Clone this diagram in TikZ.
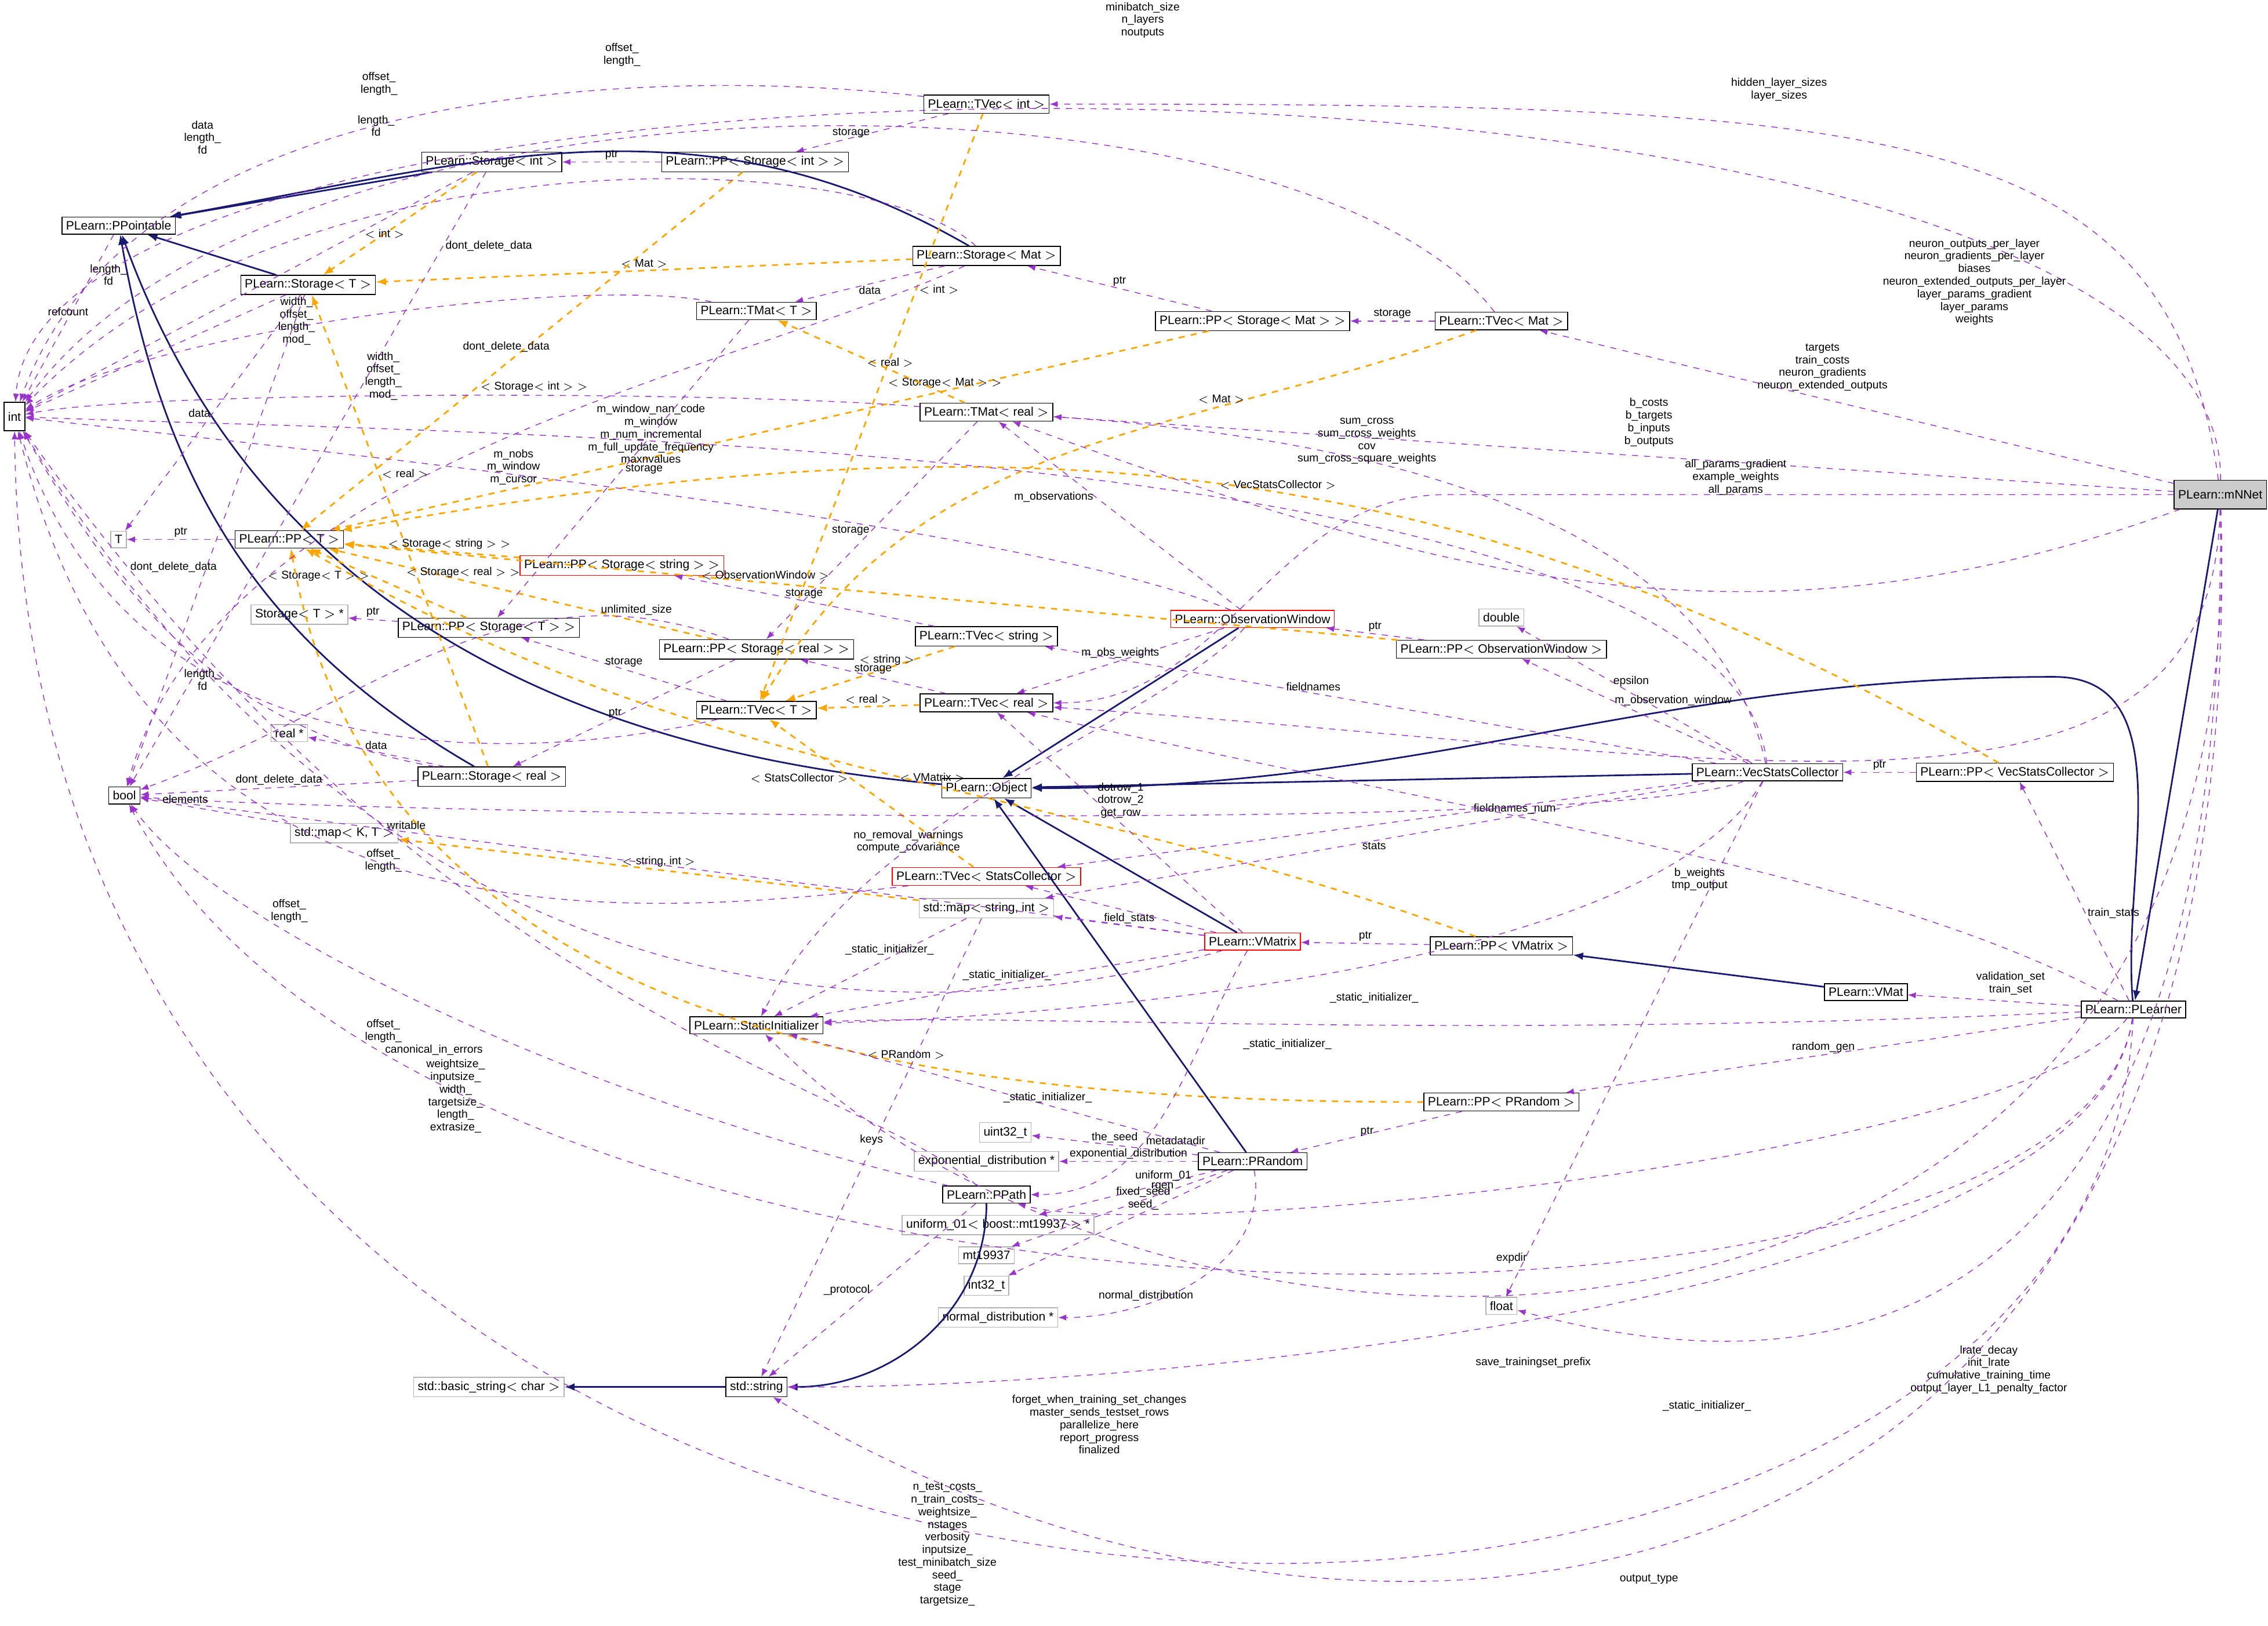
\documentclass[tikz,border=0pt]{standalone}
\usepackage{fontspec}
\setmainfont{Liberation Sans}
\usetikzlibrary{arrows.meta}
\definecolor{navy}{RGB}{25,25,112}
\definecolor{orchid}{RGB}{154,50,205}
\definecolor{tmpl}{RGB}{255,165,0}
\tikzset{
  cls/.style={draw, fill=white, inner sep=2pt, font=\fontsize{6}{7}\selectfont},
  ext/.style={cls, draw=gray!60},
  bad/.style={cls, draw=red},
  lbl/.style={font=\fontsize{5.5}{6.2}\selectfont, align=center, inner sep=1pt, text=black},
  inh/.style={navy, thick, -{Latex[length=5pt]}},
  use/.style={orchid, dashed, -{Latex[length=4pt]}},
  tpl/.style={tmpl, dashed, thick, -{Latex[length=5pt]}}
}
\begin{document}
\begin{tikzpicture}[x=0.025cm, y=-0.025cm]
    \useasboundingbox (0,0) rectangle (1568,1124);
    % classes
    \node[cls, minimum height=14] (int) at (10,288) {int};
    \node[cls] (bool) at (86,550) {bool};
    \node[ext] (T) at (82,373) {T};
    \node[cls] (ppointable) at (82,156) {PLearn::PPointable};
    \node[cls] (storT) at (213,197) {PLearn::Storage$<$ T $>$};
    \node[cls] (storInt) at (340,112) {PLearn::Storage$<$ int $>$};
    \node[cls] (ppStorInt) at (522,112) {PLearn::PP$<$ Storage$<$ int $>$ $>$};
    \node[cls] (tvecInt) at (682,72) {PLearn::TVec$<$ int $>$};
    \node[cls] (storMat) at (682,177) {PLearn::Storage$<$ Mat $>$};
    \node[cls] (tmatT) at (523,215) {PLearn::TMat$<$ T $>$};
    \node[cls] (ppStorMat) at (866,222) {PLearn::PP$<$ Storage$<$ Mat $>$ $>$};
    \node[cls] (tvecMat) at (1038,222) {PLearn::TVec$<$ Mat $>$};
    \node[cls] (tmatReal) at (682,285) {PLearn::TMat$<$ real $>$};
    \node[cls] (ppT) at (200,373) {PLearn::PP$<$ T $>$};
    \node[bad] (ppStorStr) at (430,391) {PLearn::PP$<$ Storage$<$ string $>$ $>$};
    \node[ext] (storTptr) at (207,425) {Storage$<$ T $>$ *};
    \node[cls] (ppStorT) at (338,434) {PLearn::PP$<$ Storage$<$ T $>$ $>$};
    \node[cls] (tvecStr) at (682,440) {PLearn::TVec$<$ string $>$};
    \node[cls] (ppStorReal) at (523,449) {PLearn::PP$<$ Storage$<$ real $>$ $>$};
    \node[bad] (obsWin) at (866,428) {PLearn::ObservationWindow};
    \node[ext] (dbl) at (1038,427) {double};
    \node[cls] (ppObsWin) at (1038,449) {PLearn::PP$<$ ObservationWindow $>$};
    \node[cls] (tvecT) at (523,491) {PLearn::TVec$<$ T $>$};
    \node[cls] (tvecReal) at (682,486) {PLearn::TVec$<$ real $>$};
    \node[ext] (realPtr) at (200,507) {real *};
    \node[cls] (storReal) at (340,537) {PLearn::Storage$<$ real $>$};
    \node[cls] (object) at (682,545) {PLearn::Object};
    \node[cls] (vsc) at (1222,534) {PLearn::VecStatsCollector};
    \node[cls] (ppVsc) at (1393,534) {PLearn::PP$<$ VecStatsCollector $>$};
    \node[ext] (mapKT) at (238,576) {std::map$<$ K, T $>$};
    \node[bad] (tvecSC) at (682,606) {PLearn::TVec$<$ StatsCollector $>$};
    \node[ext] (mapSI) at (682,628) {std::map$<$ string, int $>$};
    \node[bad] (vmatrix) at (866,651) {PLearn::VMatrix};
    \node[cls] (ppVMatrix) at (1038,654) {PLearn::PP$<$ VMatrix $>$};
    \node[cls] (vmat) at (1290,686) {PLearn::VMat};
    \node[cls] (plearner) at (1475,698) {PLearn::PLearner};
    \node[cls] (statInit) at (523,709) {PLearn::StaticInitializer};
    \node[cls] (ppPRandom) at (1038,762) {PLearn::PP$<$ PRandom $>$};
    \node[ext] (uint32) at (695,783) {uint32\_t};
    \node[ext] (expDist) at (682,803) {exponential\_distribution *};
    \node[cls] (prandom) at (866,803) {PLearn::PRandom};
    \node[cls] (ppath) at (682,826) {PLearn::PPath};
    \node[ext] (unif) at (690,847) {uniform\_01$<$ boost::mt19937 $>$ *};
    \node[ext] (mt) at (682,868) {mt19937};
    \node[ext] (int32) at (682,889) {int32\_t};
    \node[ext] (normDist) at (690,911) {normal\_distribution *};
    \node[ext] (float) at (1038,903) {float};
    \node[ext] (basicStr) at (338,959) {std::basic\_string$<$ char $>$};
    \node[cls] (stdStr) at (523,959) {std::string};
    \node[cls, fill=gray!40, minimum height=14] (mnnet) at (1535,342) {PLearn::mNNet};
    % inheritance
    \draw[inh] (storInt) -- (ppointable);
    \draw[inh] (storT) -- (ppointable);
    \draw[inh] (storMat) to[out=150,in=10] (ppointable);
    \draw[inh] (storReal) to[out=150,in=-80] (ppointable);
    \draw[inh] (object) to[out=175,in=-70] (ppointable);
    \draw[inh] (obsWin) -- (object);
    \draw[inh] (vsc) -- (object);
    \draw[inh] (vmatrix) -- (object);
    \draw[inh] (prandom) -- (object);
    \draw[inh] (plearner) to[out=95,in=0] (1420,468) to[out=180,in=0] (object);
    \draw[inh] (mnnet) -- (plearner);
    \draw[inh] (vmat) -- (ppVMatrix);
    \draw[inh] (stdStr) -- (basicStr);
    \draw[inh] (ppath) to[out=-90,in=0] (stdStr);
    % templates
    \draw[tpl] (storInt) -- node[lbl, pos=0.6]{$<$ int $>$} (storT);
    \draw[tpl] (storMat) -- node[lbl, above]{$<$ Mat $>$} (storT);
    \draw[tpl] (storReal) -- node[lbl, pos=0.62, right]{$<$ real $>$} (storT);
    \draw[tpl] (ppStorInt) -- node[lbl, pos=0.6, right]{$<$ Storage$<$ int $>$ $>$} (ppT);
    \draw[tpl] (ppStorMat) -- node[lbl, pos=0.3, above]{$<$ Storage$<$ Mat $>$ $>$} (ppT);
    \draw[tpl] (ppStorStr) -- node[lbl, above, pos=0.4]{$<$ Storage$<$ string $>$ $>$} (ppT);
    \draw[tpl] (ppStorReal) -- node[lbl, pos=0.65, above]{$<$ Storage$<$ real $>$ $>$} (ppT);
    \draw[tpl] (ppStorT) -- node[lbl, pos=0.6, left]{$<$ Storage$<$ T $>$ $>$} (ppT);
    \draw[tpl] (ppObsWin) -- node[lbl, pos=0.6, above]{$<$ ObservationWindow $>$} (ppT);
    \draw[tpl] (ppVsc) to[out=150,in=10] node[lbl, pos=0.45, above]{$<$ VecStatsCollector $>$} (ppT);
    \draw[tpl] (ppVMatrix) to[out=160,in=-30] node[lbl, pos=0.45, above]{$<$ VMatrix $>$} (ppT);
    \draw[tpl] (ppPRandom) to[out=180,in=-80] node[lbl, pos=0.35, above]{$<$ PRandom $>$} (ppT);
    \draw[tpl] (tvecInt) -- node[lbl, pos=0.3, right]{$<$ int $>$} (tvecT);
    \draw[tpl] (tvecMat) to[out=200,in=60] node[lbl, pos=0.3, above]{$<$ Mat $>$} (tvecT);
    \draw[tpl] (tvecStr) -- node[lbl, pos=0.4, above]{$<$ string $>$} (tvecT);
    \draw[tpl] (tvecReal) -- node[lbl, above]{$<$ real $>$} (tvecT);
    \draw[tpl] (tvecSC) -- node[lbl, pos=0.6, left]{$<$ StatsCollector $>$} (tvecT);
    \draw[tpl] (tmatReal) -- node[lbl, pos=0.4, above]{$<$ real $>$} (tmatT);
    \draw[tpl] (mapSI) -- node[lbl, above]{$<$ string, int $>$} (mapKT);
    % members of mNNet
    \draw[use] (mnnet) .. controls (1540,0) and (30,0) .. (int);
    \path node[lbl] at (790,14) {minibatch\_size\\n\_layers\\noutputs};
    \draw[use] (mnnet) .. controls (1500,80) and (1300,72) .. (tvecInt);
    \path node[lbl] at (1230,62) {hidden\_layer\_sizes\\layer\_sizes};
    \draw[use] (mnnet) -- (tvecMat);
    \path node[lbl] at (1365,195) {neuron\_outputs\_per\_layer\\neuron\_gradients\_per\_layer\\biases\\neuron\_extended\_outputs\_per\_layer\\layer\_params\_gradient\\layer\_params\\weights};
    \draw[use] (mnnet) -- (tmatReal);
    \path node[lbl] at (1260,254) {targets\\train\_costs\\neuron\_gradients\\neuron\_extended\_outputs};
    \draw[use] (mnnet) to[out=200,in=-20] (tmatReal);
    \path node[lbl] at (1140,292) {b\_costs\\b\_targets\\b\_inputs\\b\_outputs};
    \draw[use] (mnnet) -- (1000,342) to[out=180,in=0] (tvecReal);
    \path node[lbl] at (1200,330) {all\_params\_gradient\\example\_weights\\all\_params};
    \draw[use] (mnnet) .. controls (1530,600) and (1200,520) .. (tvecReal);
    \path node[lbl] at (1175,608) {b\_weights\\tmp\_output};
    \draw[use] (mnnet) .. controls (1540,950) and (1250,960) .. (float);
    \path node[lbl] at (1375,947) {lrate\_decay\\init\_lrate\\cumulative\_training\_time\\output\_layer\_L1\_penalty\_factor};
    \draw[use] (mnnet) .. controls (1560,1010) and (800,990) .. (statInit);
    \path node[lbl] at (1180,972) {\_static\_initializer\_};
    \draw[use] (mnnet) .. controls (1560,1190) and (900,1190) .. (stdStr);
    \path node[lbl] at (1140,1092) {output\_type};
    % members of PLearner
    \draw[use] (plearner) -- (vmat);
    \path node[lbl] at (1390,680) {validation\_set\\train\_set};
    \draw[use] (plearner) -- node[lbl, right, pos=0.4]{train\_stats} (ppVsc);
    \draw[use] (plearner) -- node[lbl, pos=0.5, above]{random\_gen} (ppPRandom);
    \draw[use] (plearner) .. controls (1400,800) and (800,860) .. (ppath);
    \path node[lbl] at (1045,870) {expdir};
    \draw[use] (plearner) .. controls (1450,900) and (800,960) .. (stdStr);
    \path node[lbl] at (1060,942) {save\_trainingset\_prefix};
    \draw[use] (plearner) .. controls (1440,960) and (300,960) .. (bool);
    \path node[lbl] at (760,985) {forget\_when\_training\_set\_changes\\master\_sends\_testset\_rows\\parallelize\_here\\report\_progress\\finalized};
    \draw[use] (plearner) .. controls (1450,1260) and (20,1260) .. (int);
    \path node[lbl] at (655,1068) {n\_test\_costs\_\\n\_train\_costs\_\\weightsize\_\\nstages\\verbosity\\inputsize\_\\test\_minibatch\_size\\seed\_\\stage\\targetsize\_};
    \draw[use] (plearner) .. controls (1000,720) and (700,700) .. (statInit);
    \path node[lbl] at (950,690) {\_static\_initializer\_};
    \draw[use] (plearner) .. controls (1300,600) and (1000,560) .. (tvecReal);
    \path node[lbl] at (950,585) {stats};
    % members of VecStatsCollector
    \draw[use] (vsc) .. controls (1180,340) and (900,300) .. (tmatReal);
    \path node[lbl] at (945,305) {sum\_cross\\sum\_cross\_weights\\cov\\sum\_cross\_square\_weights};
    \draw[use] (vsc) -- node[lbl, right, pos=0.6]{epsilon} (dbl);
    \draw[use] (vsc) -- node[lbl, pos=0.6, right]{m\_observation\_window} (ppObsWin);
    \draw[use] (vsc) -- node[lbl, pos=0.6, above]{fieldnames} (tvecStr);
    \draw[use] (vsc) -- (tvecSC);
    \draw[use] (vsc) -- node[lbl, pos=0.3, above]{fieldnames\_num} (mapSI);
    \draw[use] (vsc) .. controls (1100,580) and (200,560) .. (bool);
    \path node[lbl] at (628,582) {no\_removal\_warnings\\compute\_covariance};
    \draw[use] (vsc) .. controls (1200,300) and (300,300) .. (int);
    \path node[lbl] at (450,300) {m\_window\_nan\_code\\m\_window\\m\_num\_incremental\\m\_full\_update\_frequency\\maxnvalues};
    \draw[use] (vsc) -- (float);
    \draw[use] (vsc) .. controls (1150,660) and (800,700) .. (statInit);
    \path node[lbl] at (890,722) {\_static\_initializer\_};
    \draw[use] (ppVsc) -- node[lbl, above]{ptr} (vsc);
    % members of ObservationWindow
    \draw[use] (obsWin) -- node[lbl, pos=0.6, left]{m\_observations} (tmatReal);
    \draw[use] (obsWin) -- node[lbl, pos=0.5, above]{m\_obs\_weights} (tvecReal);
    \draw[use] (obsWin) .. controls (700,360) and (200,310) .. (int);
    \path node[lbl] at (355,323) {m\_nobs\\m\_window\\m\_cursor};
    \draw[use] (obsWin) .. controls (800,500) and (600,560) .. (statInit);
    \draw[use] (ppObsWin) -- node[lbl, above]{ptr} (obsWin);
    % members of VMatrix
    \draw[use] (vmatrix) -- node[lbl, above]{field\_stats} (mapSI);
    \draw[use] (vmatrix) -- (tvecSC);
    \draw[use] (vmatrix) -- node[lbl, pos=0.6, right]{dotrow\_1\\dotrow\_2\\get\_row} (tvecReal);
    \draw[use] (vmatrix) to[out=-120,in=0] node[lbl, right, pos=0.6]{metadatadir} (ppath);
    \draw[use] (vmatrix) -- node[lbl, pos=0.75, above]{writable} (bool);
    \draw[use] (vmatrix) .. controls (700,700) and (300,760) .. (int);
    \path node[lbl] at (315,758) {weightsize\_\\inputsize\_\\width\_\\targetsize\_\\length\_\\extrasize\_};
    \draw[use] (vmatrix) -- node[lbl, pos=0.5, above]{\_static\_initializer\_} (statInit);
    \draw[use] (ppVMatrix) -- node[lbl, above]{ptr} (vmatrix);
    % members of PRandom
    \draw[use] (prandom) -- node[lbl, above]{the\_seed} (uint32);
    \draw[use] (prandom) -- node[lbl, above]{exponential\_distribution} (expDist);
    \draw[use] (prandom) -- node[lbl, above, pos=0.3]{uniform\_01} (unif);
    \draw[use] (prandom) -- node[lbl, above, pos=0.3]{rgen} (mt);
    \draw[use] (prandom) -- node[lbl, above, pos=0.4]{fixed\_seed\\seed\_} (int32);
    \draw[use] (prandom) to[out=-80,in=0] node[lbl, above, pos=0.7]{normal\_distribution} (normDist);
    \draw[use] (prandom) -- node[lbl, above, pos=0.4]{\_static\_initializer\_} (statInit);
    \draw[use] (ppPRandom) -- node[lbl, left]{ptr} (prandom);
    % members of PPath
    \draw[use] (ppath) -- node[lbl, left]{\_protocol} (stdStr);
    \draw[use] (ppath) .. controls (400,760) and (150,640) .. (bool);
    \path node[lbl] at (300,726) {canonical\_in\_errors};
    \draw[use] (ppath) .. controls (600,750) and (300,700) .. (int);
    \path node[lbl] at (265,713) {offset\_\\length\_};
    \draw[use] (mapSI) -- node[lbl, above]{keys} (stdStr);
    \draw[use] (mapSI) -- node[lbl, above, pos=0.4]{\_static\_initializer\_} (statInit);
    \draw[use] (mapKT) -- node[lbl, above, pos=0.7]{elements} (bool);
    % members of TVec / TMat
    \draw[use] (tvecInt) -- node[lbl, left, pos=0.5]{storage} (ppStorInt);
    \draw[use] (tvecInt) .. controls (500,50) and (100,40) .. (int);
    \path node[lbl] at (262,58) {offset\_\\length\_};
    \draw[use] (tvecMat) -- node[lbl, above]{storage} (ppStorMat);
    \draw[use] (tvecMat) .. controls (900,40) and (200,30) .. (int);
    \path node[lbl] at (430,38) {offset\_\\length\_};
    \draw[use] (tmatReal) -- node[lbl, pos=0.5, left]{storage} (ppStorReal);
    \draw[use] (tmatReal) .. controls (500,270) and (100,270) .. (int);
    \path node[lbl] at (265,260) {width\_\\offset\_\\length\_\\mod\_};
    \draw[use] (tmatT) -- node[lbl, right]{storage} (ppStorT);
    \draw[use] (tmatT) .. controls (400,190) and (100,230) .. (int);
    \path node[lbl] at (205,222) {width\_\\offset\_\\length\_\\mod\_};
    \draw[use] (tvecStr) -- node[lbl, above]{storage} (ppStorStr);
    \draw[use] (tvecReal) -- node[lbl, above]{storage} (ppStorReal);
    \draw[use] (tvecT) -- node[lbl, above]{storage} (ppStorT);
    \draw[use] (tvecT) .. controls (400,520) and (100,560) .. (int);
    \path node[lbl] at (265,595) {offset\_\\length\_};
    \draw[use] (tvecSC) .. controls (400,640) and (100,650) .. (int);
    \path node[lbl] at (200,630) {offset\_\\length\_};
    \draw[use] (ppStorReal) to[out=160,in=20] (bool);
    \path node[lbl] at (440,422) {unlimited\_size};
    % members of Storage / PP
    \draw[use] (ppStorInt) -- node[lbl, above]{ptr} (storInt);
    \draw[use] (ppStorMat) -- node[lbl, above]{ptr} (storMat);
    \draw[use] (ppStorT) -- node[lbl, above]{ptr} (storTptr);
    \draw[use] (ppStorReal) -- node[lbl, pos=0.5, left]{ptr} (storReal);
    \draw[use] (ppT) -- node[lbl, above]{ptr} (T);
    \draw[use] (storInt) -- (int);
    \path node[lbl] at (140,95) {data\\length\_\\fd};
    \draw[use] (storInt) -- node[lbl, pos=0.12, right]{dont\_delete\_data} (bool);
    \draw[use] (storMat) -- node[lbl, below]{data} (tmatT);
    \draw[use] (storMat) .. controls (600,100) and (200,90) .. (int);
    \path node[lbl] at (260,87) {length\_\\fd};
    \draw[use] (storMat) .. controls (500,260) and (150,320) .. (bool);
    \path node[lbl] at (350,240) {dont\_delete\_data};
    \draw[use] (storT) -- node[lbl, left]{data} (T);
    \draw[use] (storT) -- (int);
    \path node[lbl] at (75,190) {length\_\\fd};
    \draw[use] (storT) -- (bool);
    \path node[lbl] at (120,392) {dont\_delete\_data};
    \draw[use] (storReal) -- node[lbl, above]{data} (realPtr);
    \draw[use] (storReal) to[out=170,in=-60] (int);
    \path node[lbl] at (140,470) {length\_\\fd};
    \draw[use] (storReal) -- node[lbl, above]{dont\_delete\_data} (bool);
    \draw[use] (ppointable) -- node[lbl, above]{refcount} (int);
\end{tikzpicture}
\end{document}
